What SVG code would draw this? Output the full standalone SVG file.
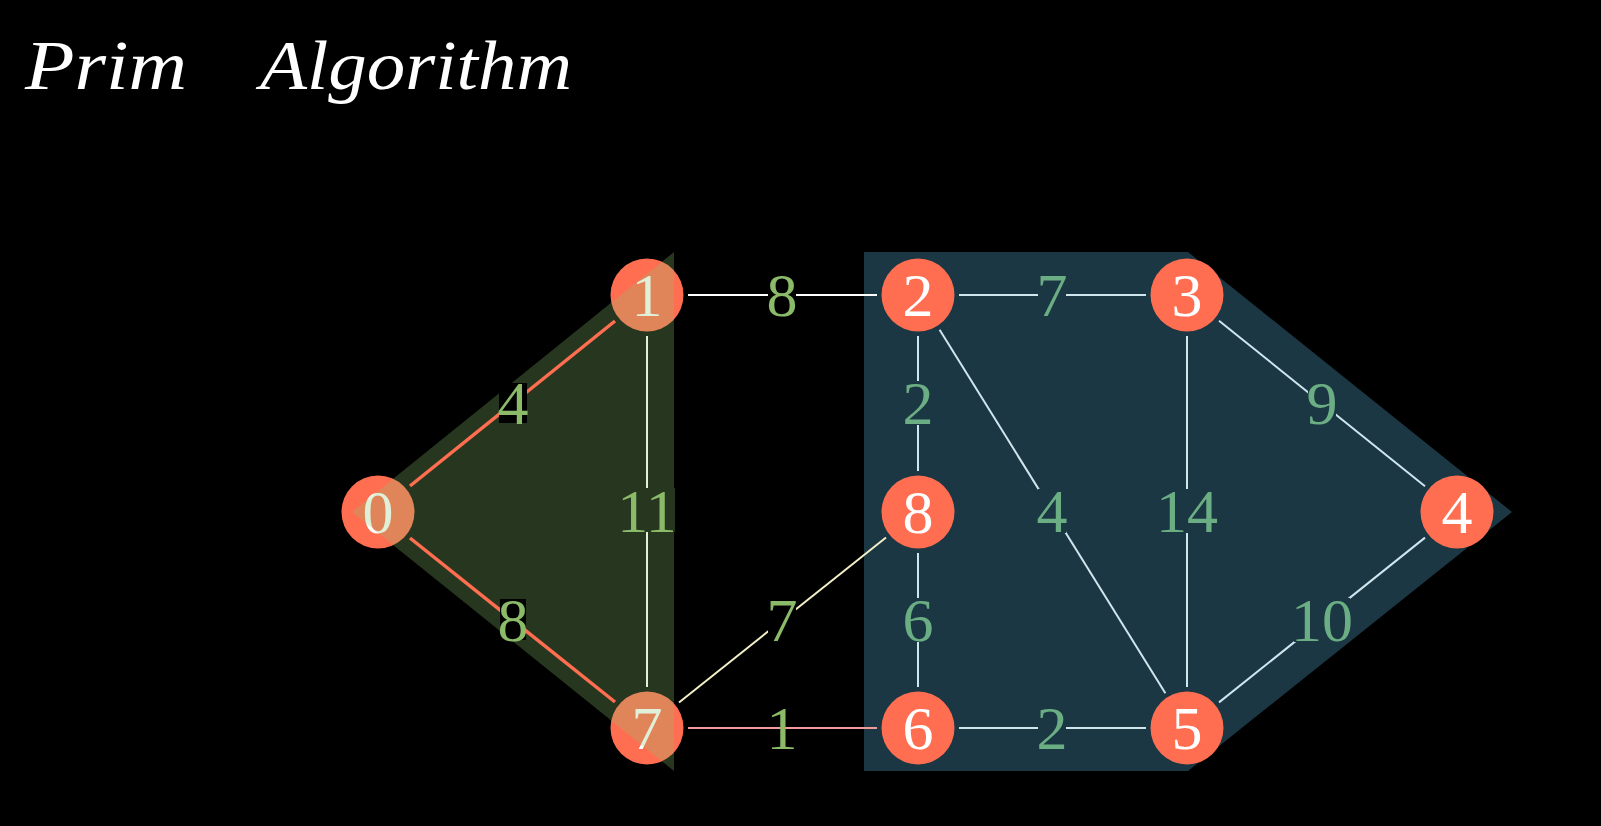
<svg xmlns="http://www.w3.org/2000/svg" width="1601" height="826" viewBox="0 0 1601 826">
<style>
.node circle{fill:#ff6e50}
.node text{font-family:"Liberation Serif","DejaVu Serif",serif;font-size:62px;fill:#ffffff;text-anchor:middle}
.e{fill:none;stroke-width:2;stroke-linecap:butt}
.w{stroke:#ffffff}
.b{stroke:#cfe6ee}
.red{stroke:#ff6e50;stroke-width:3.5}
.lbl{font-family:"Liberation Serif","DejaVu Serif",serif;font-size:62px;text-anchor:middle}
.lg{fill:#8bbb68}
.lb{fill:#6bae83}
.title{font-family:"Liberation Serif","DejaVu Serif",serif;font-style:italic;font-size:70px;fill:#ffffff}
</style>
<rect x="0" y="0" width="1601" height="826" fill="#000000"/>
<polygon id="region-blue" points="864,252 1188,252 1512,512 1188,771 864,771" fill="#1b3744"/>
<g id="node-0" class="node"><circle cx="378" cy="512" r="36.5"/><text x="378" y="533">0</text></g>
<g id="node-1" class="node"><circle cx="647" cy="295" r="36.5"/><text x="647" y="316">1</text></g>
<g id="node-2" class="node"><circle cx="918" cy="295" r="36.5"/><text x="918" y="316">2</text></g>
<g id="node-3" class="node"><circle cx="1187" cy="295" r="36.5"/><text x="1187" y="316">3</text></g>
<g id="node-4" class="node"><circle cx="1457" cy="512" r="36.5"/><text x="1457" y="533">4</text></g>
<g id="node-5" class="node"><circle cx="1187" cy="728" r="36.5"/><text x="1187" y="749">5</text></g>
<g id="node-6" class="node"><circle cx="918" cy="728" r="36.5"/><text x="918" y="749">6</text></g>
<g id="node-7" class="node"><circle cx="647" cy="728" r="36.5"/><text x="647" y="749">7</text></g>
<g id="node-8" class="node"><circle cx="918" cy="512" r="36.5"/><text x="918" y="533">8</text></g>
<polygon id="region-green" points="674,252 674,771 352,512" fill="#8ec471" fill-opacity="0.275"/>
<g id="connectors">
<line class="e red" x1="410" y1="486" x2="615" y2="321"/>
<line class="e red" x1="410" y1="538" x2="615" y2="702"/>
<line class="e" stroke="#e0efd8" x1="647" y1="336" x2="647" y2="687"/>
<line class="e w" x1="688" y1="295" x2="877" y2="295"/>
<line class="e b" x1="959" y1="295" x2="1146" y2="295"/>
<line class="e b" x1="918" y1="336" x2="918" y2="471"/>
<line class="e b" x1="939.6" y1="329.8" x2="1165.4" y2="693.2"/>
<line class="e b" x1="1187" y1="336" x2="1187" y2="687"/>
<line class="e b" x1="1219" y1="320.7" x2="1425" y2="486.3"/>
<line class="e b" x1="1425" y1="537.6" x2="1219" y2="702.4"/>
<line class="e b" x1="959" y1="728" x2="1146" y2="728"/>
<line class="e b" x1="918" y1="553" x2="918" y2="687"/>
<line class="e" stroke="#f3efc6" x1="679" y1="702.5" x2="886" y2="537.5"/>
<line class="e" stroke="#f29b98" stroke-width="3" x1="688" y1="728" x2="877" y2="728"/>
<rect x="499" y="383" width="28" height="40" fill="#000000"/>
<rect x="500" y="599" width="26" height="41" fill="#000000"/>
<rect x="619" y="488" width="56" height="44" fill="#27361f"/>
<rect x="768" y="273" width="28" height="44" fill="#000000"/>
<rect x="768" y="598" width="28" height="44" fill="#000000"/>
<rect x="1038" y="273" width="28" height="44" fill="#1b3744"/>
<rect x="904" y="381" width="28" height="44" fill="#1b3744"/>
<rect x="1038" y="489" width="28" height="44" fill="#1b3744"/>
<rect x="1159" y="489" width="56" height="44" fill="#1b3744"/>
<rect x="1308" y="381" width="28" height="44" fill="#1b3744"/>
<rect x="1294" y="598" width="56" height="44" fill="#1b3744"/>
<rect x="904" y="598" width="28" height="44" fill="#1b3744"/>
<rect x="1038" y="706" width="28" height="44" fill="#1b3744"/>
<text class="lbl lg" x="513" y="424">4</text>
<text class="lbl lg" x="513" y="641">8</text>
<text class="lbl lg" x="647" y="532">11</text>
<text class="lbl lg" x="782" y="316">8</text>
<text class="lbl lg" x="782" y="641">7</text>
<text class="lbl lg" x="782" y="749">1</text>
<text class="lbl lb" x="1052" y="316">7</text>
<text class="lbl lb" x="918" y="424">2</text>
<text class="lbl lb" x="1052" y="532">4</text>
<text class="lbl lb" x="1187" y="532">14</text>
<text class="lbl lb" x="1322" y="424">9</text>
<text class="lbl lb" x="1322" y="641">10</text>
<text class="lbl lb" x="918" y="641">6</text>
<text class="lbl lb" x="1052" y="749">2</text>
</g>
<g id="title">
<text class="title" x="25" y="89" textLength="162" lengthAdjust="spacingAndGlyphs">Prim</text>
<text class="title" x="260" y="89" textLength="312" lengthAdjust="spacingAndGlyphs">Algorithm</text>
</g>
</svg>
